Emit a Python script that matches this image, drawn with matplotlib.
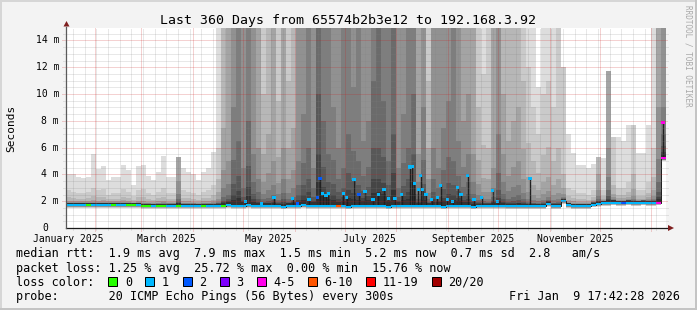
import datetime as dt
import numpy as np
import matplotlib
matplotlib.use('Agg')
import matplotlib.pyplot as plt
from matplotlib.patches import Rectangle, Polygon

W, H = 697, 310
start = dt.datetime(2025, 1, 14, 17, 42, 28)
span_days = 360
bin_days = 3

# median rtt per 3-day bin (ms)
median_ms = [
    1.70, 1.70, 1.70, 1.70, 1.70, 1.70, 1.70, 1.70, 1.70, 1.70,
    1.70, 1.70, 1.70, 1.70, 1.70, 1.65, 1.65, 1.65, 1.65, 1.65,
    1.65, 1.65, 1.65, 1.65, 1.65, 1.65, 1.65, 1.65, 1.65, 1.65,
    1.65, 1.65, 1.70, 1.65, 1.65, 1.65, 1.70, 1.65, 1.65, 1.65,
    1.65, 1.65, 1.65, 1.60, 1.65, 1.65, 1.65, 1.70, 1.65, 1.65,
    1.65, 1.65, 1.65, 1.65, 1.65, 1.65, 1.60, 1.65, 1.65, 1.65,
    1.65, 1.65, 1.65, 1.65, 1.60, 1.65, 1.65, 1.65, 1.65, 1.65,
    1.65, 1.65, 1.65, 1.65, 1.65, 1.60, 1.65, 1.65, 1.65, 1.65,
    1.65, 1.60, 1.65, 1.65, 1.65, 1.65, 1.65, 1.65, 1.62, 1.62,
    1.62, 1.62, 1.62, 1.62, 1.62, 1.62, 1.80, 1.62, 1.62, 2.00,
    1.70, 1.62, 1.62, 1.62, 1.62, 1.75, 1.80, 1.85, 1.85, 1.90,
    1.85, 1.85, 1.90, 1.85, 1.85, 1.90, 1.85, 1.85, 1.90, 5.20,
]
# loss colour index per bin
loss_code = [
    1, 1, 1, 1, 0, 1, 1, 1, 1, 0,
    1, 1, 0, 0, 1, 0, 0, 1, 0, 0,
    1, 1, 0, 1, 1, 1, 1, 0, 1, 1,
    1, 0, 1, 1, 1, 1, 1, 1, 1, 1,
    1, 1, 1, 1, 1, 1, 1, 1, 1, 1,
    1, 1, 1, 1, 5, 1, 1, 1, 1, 1,
    1, 1, 1, 1, 1, 1, 1, 1, 1, 1,
    1, 1, 1, 1, 1, 1, 1, 1, 1, 1,
    1, 1, 1, 1, 1, 1, 1, 1, 1, 1,
    1, 1, 1, 1, 1, 1, 1, 1, 1, 1,
    1, 1, 1, 1, 1, 1, 1, 1, 1, 1,
    1, 2, 1, 1, 1, 1, 1, 1, 4, 4,
]
# height of the outer smoke (ms, >15 = off the top)
smoke_top_ms = [
    4.0, 4.0, 3.8, 3.7, 3.8, 5.5, 4.4, 4.6, 3.6, 3.8,
    3.8, 4.7, 4.3, 3.2, 4.6, 4.7, 3.9, 3.6, 4.2, 5.4,
    3.8, 3.8, 5.3, 4.5, 4.2, 4.0, 3.6, 4.2, 4.5, 5.7,
    15.5, 15.5, 15.5, 15.5, 15.5, 15.5, 15.5, 15.5, 15.5, 15.5,
    15.5, 15.5, 15.5, 15.5, 15.5, 15.5, 15.5, 15.5, 15.5, 15.5,
    15.5, 15.5, 15.5, 15.5, 15.5, 15.5, 15.5, 15.5, 15.5, 15.5,
    15.5, 15.5, 15.5, 15.5, 15.5, 15.5, 15.5, 15.5, 15.5, 15.5,
    15.5, 15.5, 15.5, 15.5, 15.5, 15.5, 15.5, 15.5, 15.5, 15.5,
    15.5, 15.5, 15.5, 15.5, 15.5, 15.5, 15.5, 15.5, 15.5, 15.5,
    15.5, 15.5, 15.5, 15.5, 10.5, 15.5, 15.5, 15.5, 15.5, 12.0,
    7.0, 5.6, 4.7, 4.7, 4.5, 4.8, 5.3, 5.2, 11.7, 6.8,
    6.8, 6.5, 7.7, 7.7, 5.6, 5.6, 7.7, 15.5, 15.5, 15.5,
]
# how many of the 10 smoke bands reach that top
smoke_bands = [
    1, 1, 1, 1, 1, 1, 1, 1, 1, 1,
    1, 1, 1, 1, 1, 1, 1, 1, 1, 1,
    1, 1, 4, 1, 1, 1, 1, 1, 1, 1,
    1, 3, 4, 5, 6, 5, 6, 5, 4, 2,
    3, 4, 2, 4, 2, 3, 5, 5, 6, 5,
    7, 6, 6, 5, 5, 6, 6, 5, 6, 5,
    5, 6, 7, 6, 6, 7, 5, 5, 6, 6,
    4, 5, 2, 5, 5, 5, 5, 6, 5, 4,
    4, 4, 2, 1, 2, 4, 5, 3, 3, 3,
    3, 2, 1, 1, 1, 1, 1, 1, 2, 2,
    1, 1, 1, 1, 1, 1, 3, 1, 4, 2,
    1, 1, 1, 2, 1, 1, 1, 1, 4, 5,
]
# height reached by the next darker band (ms)
smoke_mid_ms = [
    2.8, 2.7, 2.6, 2.6, 2.7, 3.0, 2.8, 2.9, 2.5, 2.6,
    2.6, 2.9, 2.7, 2.4, 2.8, 2.9, 2.6, 2.5, 2.7, 3.0,
    2.6, 2.6, 3.5, 2.8, 2.7, 2.6, 2.5, 2.7, 2.8, 3.2,
    6.0, 7.5, 5.0, 9.0, 6.5, 4.5, 8.0, 5.5, 6.0, 10.0,
    7.0, 5.0, 9.5, 6.0, 11.0, 7.5, 5.0, 8.5, 6.0, 4.5,
    10.0, 8.0, 5.5, 9.0, 6.0, 4.5, 7.0, 10.5, 5.0, 6.5,
    8.0, 11.0, 6.0, 9.5, 5.0, 7.0, 4.5, 8.5, 6.0, 10.0,
    5.5, 9.0, 11.0, 6.0, 4.5, 7.5, 9.5, 5.0, 6.5, 8.0,
    10.0, 5.5, 9.0, 11.5, 6.0, 4.5, 7.0, 10.0, 6.5, 8.0,
    9.0, 11.0, 12.0, 9.0, 7.0, 10.0, 11.0, 9.0, 6.0, 4.0,
    3.0, 2.8, 2.6, 2.6, 2.5, 2.8, 4.0, 2.8, 6.0, 3.2,
    3.0, 3.0, 3.4, 4.0, 2.8, 2.8, 3.4, 6.0, 9.0, 9.0,
]
# short median peaks (day since start, ms, loss colour)
spike_day = [107.8, 117.4, 124.8, 136.0, 139.0, 145.8, 151.0, 152.4, 154.0, 156.0,
             157.4, 166.4, 168.4, 172.8, 175.8, 179.4, 184.2, 187.4, 190.8, 193.4,
             197.4, 201.4, 206.4, 207.8, 209.0, 211.4, 212.8, 214.0, 216.0, 219.4,
             222.8, 224.8, 228.8, 232.0, 235.0, 237.0, 241.0, 244.8, 249.4, 256.0,
             259.0, 278.4, 358.2]
spike_ms = [1.97, 1.85, 2.25, 2.17, 1.85, 2.10, 2.27, 3.67, 2.55, 2.40,
            2.60, 2.55, 2.27, 3.60, 2.50, 2.72, 2.10, 2.47, 2.85, 2.20,
            2.20, 2.50, 4.55, 4.60, 3.30, 2.90, 3.90, 2.90, 2.50, 2.10,
            2.30, 3.20, 2.10, 2.00, 3.00, 2.50, 3.90, 2.10, 2.30, 2.80,
            2.00, 3.70, 7.90]
spike_loss = [1, 1, 1, 1, 2, 1, 2, 2, 1, 1,
              1, 1, 1, 1, 2, 1, 1, 1, 1, 1,
              1, 1, 1, 1, 1, 1, 1, 1, 1, 1,
              1, 1, 1, 1, 1, 1, 1, 1, 1, 1,
              1, 1, 4]

loss_colors = ['#26ff00', '#00b8ff', '#0059ff', '#7e00ff',
               '#ff00ea', '#ff5500', '#ff0000', '#a10000']
loss_labels = ['0', '1', '2', '3', '4-5', '6-10', '11-19', '20/20']
y_ticks = [0, 2, 4, 6, 8, 10, 12, 14]
y_top = 14.93

title = 'Last 360 Days from 65574b2b3e12 to 192.168.3.92'
legend_lines = [
    'median rtt:  1.9 ms avg  7.9 ms max  1.5 ms min  5.2 ms now  0.7 ms sd  2.8   am/s',
    'packet loss: 1.25 % avg  25.72 % max  0.00 % min  15.76 % now',
    'loss color:',
    'probe:       20 ICMP Echo Pings (56 Bytes) every 300s',
]
stamp = 'Fri Jan  9 17:42:28 2026'

plt.rcParams['font.family'] = 'DejaVu Sans Mono'


def px(x, y):
    return (x / W, 1 - y / H)


def day_of(d):
    return (d - start).total_seconds() / 86400.0


fig = plt.figure(figsize=(W / 100, H / 100), dpi=100, facecolor='#f3f3f3')
ax = fig.add_axes([66 / W, 1 - 228 / H, 600 / W, 200 / H])
ax.set_facecolor('white')
ax.set_xlim(0, span_days)
ax.set_ylim(0, y_top)
for s in ax.spines.values():
    s.set_visible(False)
ax.set_xticks([])
ax.set_yticks([])

# smoke: 10 nested bands, outer light, inner dark
edges = np.arange(len(median_ms) + 1) * bin_days
med = np.array(median_ms)
top = np.array(smoke_top_ms)
mid = np.array(smoke_mid_ms)
nb = np.array(smoke_bands)
core = med + 0.15
for k in range(1, 11):
    g = int(190 / 10 * (10 - k)) + 50
    col = '#%02x%02x%02x' % (g, g, g)
    hk = np.where(k <= nb, top, core + (mid - core) * 0.45 ** np.maximum(k - nb - 1, 0))
    bk = med - 0.2 * (10 - k) / 9
    ax.fill_between(edges, np.append(bk, bk[-1]), np.append(hk, hk[-1]),
                    step='post', color=col, lw=0, antialiased=False, zorder=1)

# median line + loss coloured marks
ax.step(edges, np.append(med, med[-1]), where='post', color='#202020', lw=0.72, zorder=3)
ax.bar(edges[:-1], 0.15, bottom=med - 0.075, width=bin_days, align='edge',
       color=[loss_colors[c] for c in loss_code], lw=0, zorder=4)
sd = np.array(spike_day)
base = med[(sd // bin_days).astype(int)]
ax.vlines(sd, base, spike_ms, color='#202020', lw=1.0, zorder=3)
ax.scatter(sd, spike_ms, s=5, marker='s', c=[loss_colors[c] for c in spike_loss],
           linewidths=0, zorder=5)

# grid
month_starts = [dt.datetime(2025, m, 1) for m in range(2, 13)] + [dt.datetime(2026, 1, 1)]
major_x = [day_of(d) for d in month_starts]
minor_x = []
d = dt.datetime(2025, 1, 19)
while day_of(d) < span_days:
    if d.day != 1:
        minor_x.append(day_of(d))
    d += dt.timedelta(days=7)
minor_y = [v / 2 for v in range(1, 30) if v % 4 != 0]
major_y = [v for v in y_ticks if v > 0]
dots = [(0, (1, 1))]
ax.vlines(minor_x, -0.15, y_top, colors=[(0.5, 0.5, 0.5, 0.35)], lw=0.72,
          linestyles=dots, clip_on=False, zorder=6)
ax.hlines(minor_y, -1.8, span_days + 1.2, colors=[(0.5, 0.5, 0.5, 0.35)], lw=0.72,
          linestyles=dots, clip_on=False, zorder=6)
ax.vlines(major_x, -0.22, y_top, colors=[(0.8, 0.1, 0.1, 0.4)], lw=0.72,
          linestyles=dots, clip_on=False, zorder=6)
ax.hlines(major_y, -2.4, span_days + 1.2, colors=[(0.8, 0.1, 0.1, 0.4)], lw=0.72,
          linestyles=dots, clip_on=False, zorder=6)

# axes with arrows
ax.plot([0, span_days + 1.2], [0, 0], color='#1a1a1a', lw=0.9, clip_on=False, zorder=7)
ax.plot([0, 0], [0, y_top + 0.1], color='#5a5a5a', lw=0.9, clip_on=False, zorder=7)
fig.add_artist(Polygon([px(668, 225), px(668, 231), px(674, 228)], closed=True,
                       transform=fig.transFigure, fc='#7f1f1f', ec='none'))
fig.add_artist(Polygon([px(63.5, 26.5), px(69.5, 26.5), px(66.5, 21)], closed=True,
                       transform=fig.transFigure, fc='#7f1f1f', ec='none'))

# tick labels
for v in y_ticks:
    if v == 0:
        ax.text((48 - 66) / 600, v, '0', transform=ax.get_yaxis_transform(),
                ha='right', va='center', fontsize=7)
    else:
        ax.text((59 - 66) / 600, v, '%d m' % v, transform=ax.get_yaxis_transform(),
                ha='right', va='center', fontsize=7)
for m in [1, 3, 5, 7, 9, 11]:
    d = dt.datetime(2025, m, 1)
    ax.text(day_of(d) + 15, (228 - 241.5) / 200, d.strftime('%B %Y'),
            transform=ax.get_xaxis_transform(), ha='center', va='baseline', fontsize=7)

fig.text(*px(347.5, 24), title, ha='center', va='baseline', fontsize=9.5)
fig.text(*px(11, 128), 'Seconds', rotation=90, ha='center', va='center', fontsize=8)
fig.text(*px(688, 5), 'RRDTOOL / TOBI OETIKER', rotation=270, ha='center', va='top',
         fontsize=5.5, color='#a8a8a8')

# legend
baselines = [257.3, 271.6, 285.6, 300]
for line, yb in zip(legend_lines, baselines):
    fig.text(*px(16, yb), line, ha='left', va='baseline', fontsize=8.5)
fig.text(*px(680, 300), stamp, ha='right', va='baseline', fontsize=8.5)
bx = 108.3
for lab, col in zip(loss_labels, loss_colors):
    fig.add_artist(Rectangle(px(bx, 286), 9 / W, 9 / H, transform=fig.transFigure,
                             fc=col, ec='black', lw=0.72))
    fig.text(*px(bx + 16.7, 285.6), lab, ha='left', va='baseline', fontsize=8.5)
    bx += 30 + 7.1 * len(lab)

# frame
fig.add_artist(Rectangle((0, 1 - 2 / H), 1, 2 / H, transform=fig.transFigure, fc='#d6d6d6', ec='none'))
fig.add_artist(Rectangle((0, 0), 2 / W, 1, transform=fig.transFigure, fc='#d6d6d6', ec='none'))
fig.add_artist(Rectangle((0, 0), 1, 2 / H, transform=fig.transFigure, fc='#c4c4c4', ec='none'))
fig.add_artist(Rectangle((1 - 2 / W, 0), 2 / W, 1, transform=fig.transFigure, fc='#c4c4c4', ec='none'))

fig.savefig('out.png', dpi=100, facecolor=fig.get_facecolor())
